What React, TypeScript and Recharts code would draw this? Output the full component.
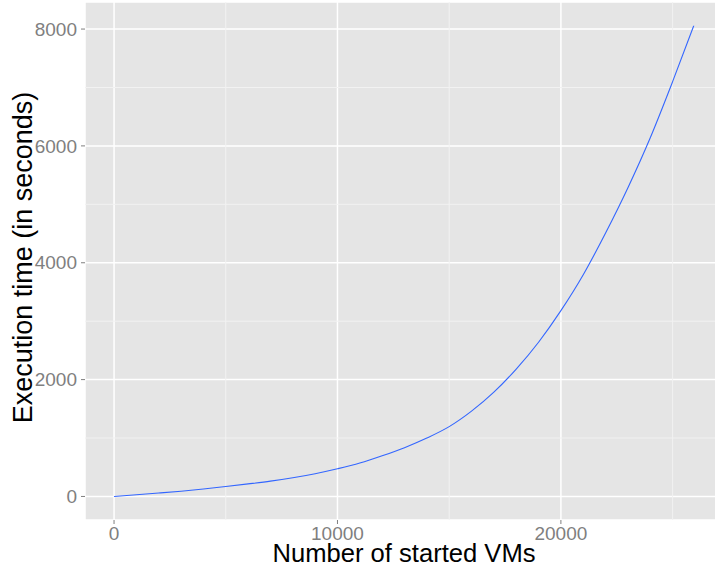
import React from "react";
import {
  CartesianGrid,
  Line,
  LineChart,
  ReferenceLine,
  XAxis,
  YAxis,
} from "recharts";

// values
const vms = [
  0, 1000, 2000, 3000, 4000, 5000, 6000, 7000, 8000, 9000, 10000, 11000, 12000,
  13000, 14000, 15000, 16000, 17000, 18000, 19000, 20000, 21000, 22000, 23000,
  24000, 25000, 25950,
];
const seconds = [
  0, 28, 58, 90, 128, 171, 215, 262, 320, 390, 474, 571, 695, 835, 1000, 1195,
  1460, 1785, 2180, 2640, 3180, 3795, 4510, 5285, 6140, 7100, 8060,
];
const xTicks = [0, 10000, 20000];
const yTicks = [0, 2000, 4000, 6000, 8000];
const xMinor = [5000, 15000, 25000];
const yMinor = [1000, 3000, 5000, 7000];

const data = vms.map((v, i) => ({ vms: v, seconds: seconds[i] }));

const GREY = "#7F7F7F";
const FONT = "'Liberation Sans', Arial, sans-serif";

export default function App() {
  return (
    <div
      style={{
        position: "fixed",
        left: 0,
        top: 0,
        width: 715,
        height: 569,
        overflow: "hidden",
        background: "#fff",
        fontFamily: FONT,
      }}
    >
      <LineChart
        width={730}
        height={569}
        data={data}
        margin={{ top: 2, right: 6, bottom: 0, left: 0 }}
      >
        <CartesianGrid fill="#E5E5E5" stroke="#fff" strokeWidth={1.5} />
        {xMinor.map((v) => (
          <ReferenceLine key={`x${v}`} x={v} stroke="#F2F2F2" strokeWidth={1} />
        ))}
        {yMinor.map((v) => (
          <ReferenceLine key={`y${v}`} y={v} stroke="#F2F2F2" strokeWidth={1} />
        ))}
        <XAxis
          dataKey="vms"
          type="number"
          domain={[-1300, 27300]}
          ticks={xTicks}
          height={49}
          axisLine={false}
          tickSize={4}
          tickMargin={3}
          tickLine={{ stroke: GREY }}
          tick={{ fontSize: 19, fill: GREY, fontFamily: FONT }}
          allowDataOverflow
        />
        <YAxis
          type="number"
          domain={[-403, 8463]}
          ticks={yTicks}
          width={85}
          axisLine={false}
          tickSize={4}
          tickMargin={4}
          tickLine={{ stroke: GREY }}
          tick={{ fontSize: 19, fill: GREY, fontFamily: FONT }}
          allowDataOverflow
        />
        <Line
          type="monotone"
          dataKey="seconds"
          stroke="#3366FF"
          strokeWidth={1.1}
          dot={false}
          isAnimationActive={false}
        />
      </LineChart>
      <svg
        width={715}
        height={569}
        style={{ position: "absolute", left: 0, top: 0, pointerEvents: "none" }}
      >
        <text
          x={404}
          y={562}
          textAnchor="middle"
          fontSize={25.6}
          fontFamily={FONT}
          fill="#000"
        >
          Number of started VMs
        </text>
        <text
          transform="translate(31.5,257.5) rotate(-90)"
          textAnchor="middle"
          fontSize={27}
          fontFamily={FONT}
          fill="#000"
        >
          Execution time (in seconds)
        </text>
      </svg>
    </div>
  );
}
